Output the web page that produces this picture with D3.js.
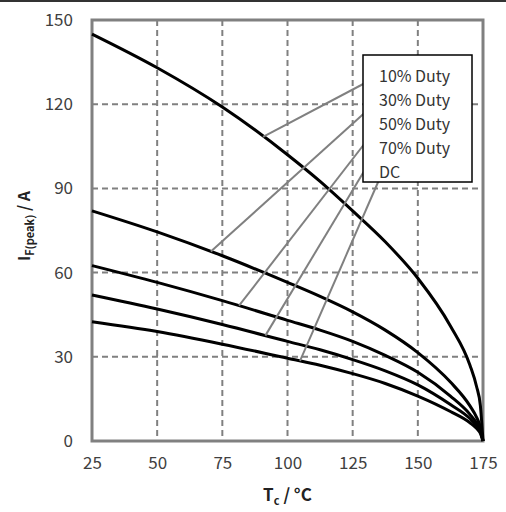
<!DOCTYPE html>
<html>
<head>
<meta charset="utf-8">
<script src="https://cdn.jsdelivr.net/npm/d3@7"></script>
<style>
  html, body { margin: 0; padding: 0; background: #fff; }
  svg { display: block; }
  text { font-family: "Noto Sans CJK SC", "Noto Sans", sans-serif; }
</style>
</head>
<body>
<div id="chart"></div>
<script>
// Data
const temps = [25, 50, 75, 100, 112.5, 125, 137.5, 150, 162.5, 170, 172.5, 174, 175];
const duty10 = [145, 133, 119, 102, 92.5, 82, 71, 58, 41, 27, 19.5, 12.5, 0];
const duty30 = [82, 74.5, 66, 56.5, 51.5, 46, 39.5, 31.5, 21, 12.5, 8.5, 5, 0];
const duty50 = [62.5, 56.5, 50, 43, 39.5, 35.5, 30.5, 24.5, 16, 9.5, 6.5, 4, 0];
const duty70 = [52, 47, 41.5, 35.5, 32.5, 29, 25, 20, 13, 8, 5.5, 3.3, 0];
const dutyDC = [42.5, 39, 34.5, 29.5, 27, 24, 20.5, 16, 10.5, 6.5, 4.5, 2.7, 0];

const seriesNames = ["10% Duty", "30% Duty", "50% Duty", "70% Duty", "DC"];
const seriesValues = [duty10, duty30, duty50, duty70, dutyDC];
// temperature where each legend leader touches its curve
const leaderTemps = [90.6, 70.6, 81.4, 91.5, 104.8];

const xTicks = [25, 50, 75, 100, 125, 150, 175];
const yTicks = [0, 30, 60, 90, 120, 150];

// Dimensions
const dimensions = {
  width: 506,
  height: 512,
  left: 92,
  right: 483,
  top: 20,
  bottom: 441,
};

const svg = d3
  .select("#chart")
  .append("svg")
  .attr("width", dimensions.width)
  .attr("height", dimensions.height);

// thin dark line across the top of the picture
svg.append("line")
  .attr("x1", 0).attr("x2", dimensions.width)
  .attr("y1", 1).attr("y2", 1)
  .attr("stroke", "#333").attr("stroke-width", 2);

// Scales
const xScale = d3.scaleLinear().domain([25, 175]).range([dimensions.left, dimensions.right]);
const yScale = d3.scaleLinear().domain([0, 150]).range([dimensions.bottom, dimensions.top]);

// Grid
const grid = svg.append("g");
grid.selectAll(".vgrid")
  .data(xTicks.slice(1, -1))
  .join("line")
  .attr("x1", (d) => xScale(d)).attr("x2", (d) => xScale(d))
  .attr("y1", dimensions.top).attr("y2", dimensions.bottom)
  .attr("stroke", "#808080").attr("stroke-width", 2)
  .attr("stroke-dasharray", "6,4");
grid.selectAll(".hgrid")
  .data(yTicks.slice(1, -1))
  .join("line")
  .attr("x1", dimensions.left).attr("x2", dimensions.right)
  .attr("y1", (d) => yScale(d)).attr("y2", (d) => yScale(d))
  .attr("stroke", "#808080").attr("stroke-width", 2)
  .attr("stroke-dasharray", "6,4");

// Axes (labels only, frame drawn separately)
const xAxis = d3.axisBottom(xScale).tickValues(xTicks).tickSize(0).tickPadding(16);
const yAxis = d3.axisLeft(yScale).tickValues(yTicks).tickSize(0).tickPadding(19);

const xAxisGroup = svg.append("g")
  .attr("transform", `translate(0, ${dimensions.bottom})`)
  .call(xAxis);
const yAxisGroup = svg.append("g")
  .attr("transform", `translate(${dimensions.left}, 0)`)
  .call(yAxis);

[xAxisGroup, yAxisGroup].forEach((g) => {
  g.select(".domain").remove();
  g.selectAll("text")
    .attr("font-size", 17)
    .attr("fill", "#404040")
    .attr("font-family", "'Noto Sans CJK SC', 'Noto Sans', sans-serif");
});

// Plot frame
svg.append("rect")
  .attr("x", dimensions.left).attr("y", dimensions.top)
  .attr("width", dimensions.right - dimensions.left)
  .attr("height", dimensions.bottom - dimensions.top)
  .attr("fill", "none")
  .attr("stroke", "#808080")
  .attr("stroke-width", 3);

// Curves
const line = d3.line()
  .x((d) => xScale(d[0]))
  .y((d) => yScale(d[1]))
  .curve(d3.curveMonotoneX);

svg.append("g")
  .selectAll("path")
  .data(seriesValues)
  .join("path")
  .attr("d", (vals) => line(temps.map((t, i) => [t, vals[i]])))
  .attr("fill", "none")
  .attr("stroke", "#000")
  .attr("stroke-width", 3);

// Legend box
const legend = { x: 363, y: 55, width: 109, height: 127, rowStep: 24, firstBaseline: 82 };

// value on a series at temperature t (linear between read points)
function valueAt(vals, t) {
  const i = d3.bisectRight(temps, t) - 1;
  const k = (t - temps[i]) / (temps[i + 1] - temps[i]);
  return vals[i] + k * (vals[i + 1] - vals[i]);
}

// leader start points sit at the legend's left edge, next to each row
const leaderStarts = [[367, 82], [370, 108], [372, 134], [372, 158], [379, 180]];

svg.append("g")
  .selectAll("line")
  .data(seriesNames)
  .join("line")
  .attr("x1", (d, i) => leaderStarts[i][0])
  .attr("y1", (d, i) => leaderStarts[i][1])
  .attr("x2", (d, i) => xScale(leaderTemps[i]))
  .attr("y2", (d, i) => yScale(valueAt(seriesValues[i], leaderTemps[i])))
  .attr("stroke", "#808080")
  .attr("stroke-width", 2);

svg.append("rect")
  .attr("x", legend.x).attr("y", legend.y)
  .attr("width", legend.width).attr("height", legend.height)
  .attr("fill", "#fff")
  .attr("stroke", "#000")
  .attr("stroke-width", 1.5);

svg.append("g")
  .selectAll("text")
  .data(seriesNames)
  .join("text")
  .attr("x", legend.x + 16)
  .attr("y", (d, i) => legend.firstBaseline + i * legend.rowStep)
  .attr("font-size", 16)
  .attr("fill", "#333")
  .text((d) => d);

// Axis titles
const xTitle = svg.append("text")
  .attr("x", (dimensions.left + dimensions.right) / 2)
  .attr("y", 501)
  .attr("text-anchor", "middle")
  .attr("font-size", 17)
  .attr("font-weight", "bold")
  .attr("fill", "#222");
xTitle.append("tspan").text("T");
xTitle.append("tspan").attr("font-size", 11).attr("dy", 4).text("c");
xTitle.append("tspan").attr("dy", -4).text(" / °C");

const yTitle = svg.append("text")
  .attr("transform", "translate(30, 226) rotate(-90)")
  .attr("text-anchor", "middle")
  .attr("font-size", 16)
  .attr("font-weight", "bold")
  .attr("fill", "#222");
yTitle.append("tspan").text("I");
yTitle.append("tspan").attr("font-size", 11).attr("dy", 4).text("F(peak)");
yTitle.append("tspan").attr("dy", -4).text(" / A");
</script>
</body>
</html>
